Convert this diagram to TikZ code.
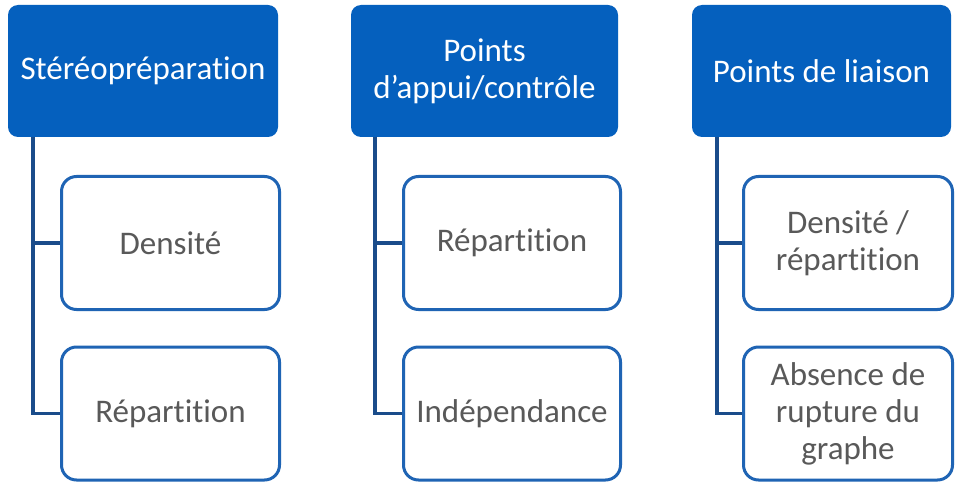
\documentclass[tikz,border=0pt]{standalone}
\usepackage{fontspec}
\setmainfont{Carlito}[Ligatures=NoCommon, RawFeature={-clig}]
\definecolor{headblue}{HTML}{0560BE}
\definecolor{edgeblue}{HTML}{1F64B4}
\definecolor{linkblue}{HTML}{1A4C8A}
\definecolor{textgray}{HTML}{595959}
\begin{document}
\begin{tikzpicture}[x=1pt,y=-1pt,
  every node/.style={font=\fontsize{33}{37}\selectfont, align=center, inner sep=0pt},
  head/.style={fill=headblue, text=white, rounded corners=10pt, minimum height=132pt},
  item/.style={draw=edgeblue, line width=3pt, fill=white, text=textgray, rounded corners=15pt, minimum height=133pt},
  link/.style={draw=linkblue, line width=3.5pt}]
\useasboundingbox[fill=white] (0,0) rectangle (956,484);

% column headers
\node[head, minimum width=270pt] (h1) at (143,71) {Stéréopréparation};
\node[head, minimum width=267pt] (h2) at (484.5,71) {Points\\d’appui/contrôle};
\node[head, minimum width=259pt] (h3) at (821.5,71) {Points de liaison};

% junction points under each header
\coordinate (j1) at (33,137);
\coordinate (j2) at (375,137);
\coordinate (j3) at (717,137);

% child items
\node[item, minimum width=218pt] (a1) at (170.5,243) {Densité};
\node[item, minimum width=218pt] (b1) at (170.5,413.5) {Répartition};
\node[item, minimum width=217pt] (a2) at (512,243) {Répartition};
\node[item, minimum width=217pt] (b2) at (512,413.5) {Indépendance};
\node[item, minimum width=209pt] (a3) at (848,243) {Densité /\\répartition};
\node[item, minimum width=209pt] (b3) at (848,413.5) {Absence de\\rupture du\\graphe};

% tree connectors
\draw[link] (j1) |- (a1.west);
\draw[link] (j1) |- (b1.west);
\draw[link] (j2) |- (a2.west);
\draw[link] (j2) |- (b2.west);
\draw[link] (j3) |- (a3.west);
\draw[link] (j3) |- (b3.west);
\end{tikzpicture}
\end{document}
